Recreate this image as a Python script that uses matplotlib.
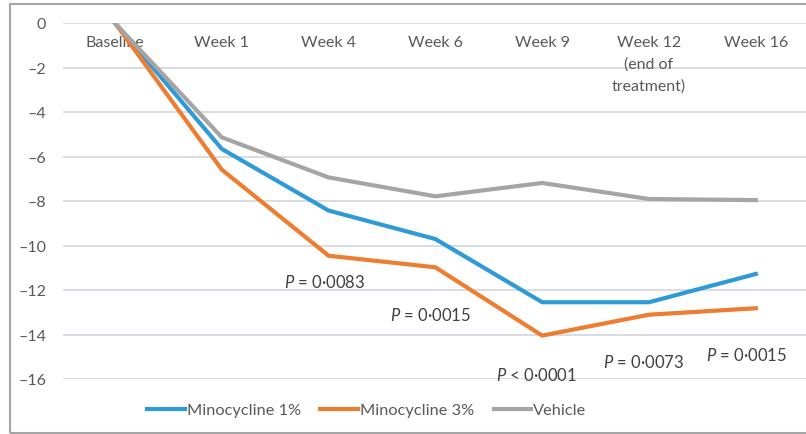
import matplotlib
matplotlib.use('Agg')
import matplotlib.pyplot as plt
from matplotlib.patches import Rectangle

plt.rcParams['font.family'] = ['Lato', 'DejaVu Sans']
plt.rcParams['mathtext.fontset'] = 'custom'
plt.rcParams['mathtext.it'] = 'Lato:italic'
plt.rcParams['mathtext.rm'] = 'Lato'

categories = ['Baseline', 'Week 1', 'Week 4', 'Week 6', 'Week 9',
              'Week 12\n(end of\ntreatment)', 'Week 16']
mino1 = [0, -5.66, -8.43, -9.71, -12.55, -12.55, -11.28]
mino3 = [0, -6.59, -10.46, -10.98, -14.05, -13.11, -12.82]
vehicle = [0, -5.14, -6.94, -7.79, -7.19, -7.91, -7.96]
yticks = [0, -2, -4, -6, -8, -10, -12, -14, -16]

p_labels = ['$P$ = 0·0083', '$P$ = 0·0015', '$P$ < 0·0001', '$P$ = 0·0073', '$P$ = 0·0015']
p_x = [1.96, 2.95, 3.95, 4.95, 5.91]
p_y = [-11.64, -13.11, -15.78, -15.2, -14.88]

txt = '#595959'

fig = plt.figure(figsize=(8.06, 4.35), dpi=100)
ax = fig.add_axes([63 / 806, 55 / 435, 1 - 63 / 806, 356 / 435])

x = range(len(categories))
ax.plot(x, mino1, color='#2f9ad8', lw=3, label='Minocycline 1%', zorder=3)
ax.plot(x, mino3, color='#ed7d31', lw=3, label='Minocycline 3%', zorder=3)
ax.plot(x, vehicle, color='#a5a5a5', lw=3, label='Vehicle', zorder=3)

ax.set_xlim(-0.487, 6.47)
ax.set_ylim(-16, 0)
ax.set_yticks(yticks)
ax.set_yticklabels(['0'] + ['\u2013' + str(-v) for v in yticks[1:]])
ax.tick_params(axis='y', length=0, pad=12, labelsize=11.5, colors=txt)
ax.set_xticks([])
ax.grid(axis='y', color='#d5dae1', lw=1.3, zorder=0)
for s in ax.spines.values():
    s.set_visible(False)
ax.set_facecolor('none')

for i, c in enumerate(categories):
    ax.text(i, -0.55, c, ha='center', va='top', fontsize=11.5, color=txt,
            linespacing=1.65, zorder=2)

for lab, px, py in zip(p_labels, p_x, p_y):
    ax.text(px, py, lab, ha='center', va='center', fontsize=12, color='#404040')

leg = fig.legend(loc='center', bbox_to_anchor=(0.455, 24 / 435), ncol=3, frameon=False,
                 fontsize=11.8, handlelength=2.3, handletextpad=0.1, columnspacing=1.2)
for t in leg.get_texts():
    t.set_color(txt)

fig.patches.append(Rectangle((10 / 806, 1.5 / 435), 1.0, 429 / 435, transform=fig.transFigure,
                             fill=False, edgecolor='#a6a6a6', lw=1.5))

fig.savefig('out.png', dpi=100)
